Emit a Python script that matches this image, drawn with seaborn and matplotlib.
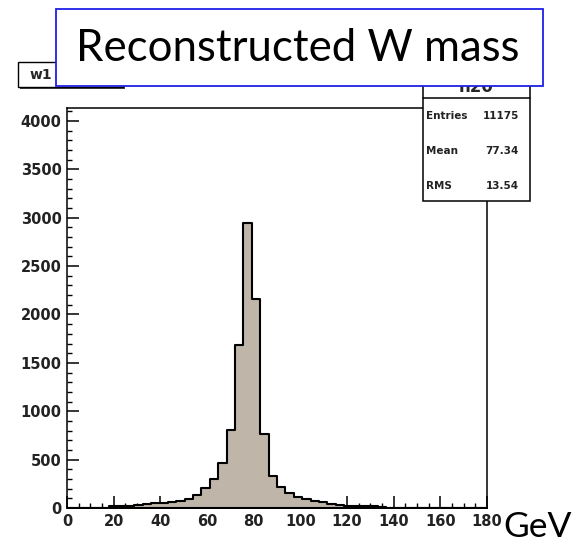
import numpy as np
import pandas as pd
import matplotlib
matplotlib.use("Agg")
import matplotlib.pyplot as plt
from matplotlib.patches import Rectangle
from matplotlib.ticker import MultipleLocator
import seaborn as sns

# ---- data ----
bin_edges = [round(3.6 * i, 1) for i in range(51)]
counts = [0, 0, 0, 0, 0, 20, 22, 25, 28, 45,
          50, 52, 65, 68, 92, 138, 205, 296, 468, 806,
          1684, 2941, 2159, 761, 331, 215, 155, 118, 92, 70,
          62, 45, 30, 25, 22, 20, 18, 10, 0, 0,
          0, 0, 0, 0, 0, 0, 0, 0, 0, 0]
x_ticks = [0, 20, 40, 60, 80, 100, 120, 140, 160, 180]
y_ticks = [0, 500, 1000, 1500, 2000, 2500, 3000, 3500, 4000]
title_text = "Reconstructed W mass"
unit_text = "GeV"
hist_name = "w1"
stats_name = "h20"
stats_labels = ["Entries", "Mean", "RMS"]
stats_values = ["11175", "77.34", "13.54"]

centers = [(bin_edges[i] + bin_edges[i + 1]) / 2 for i in range(len(counts))]
df = pd.DataFrame({"mass": centers, "n": counts})

W, H = 586, 544
sns.set_style("white")
plt.rcParams["font.family"] = ["DejaVu Sans"]
fig = plt.figure(figsize=(W / 100, H / 100), dpi=100)

def fx(x):
    return x / W

def fy(y):
    return 1 - y / H

ax = fig.add_axes([fx(67), fy(508), fx(487) - fx(67), fy(108) - fy(508)])
sns.histplot(data=df, x="mass", weights="n", bins=bin_edges, element="step",
             fill=True, color="#bfb5a9", edgecolor="black", linewidth=1.5,
             alpha=1, ax=ax)
ax.set_xlim(0, 180)
ax.set_ylim(0, 4134)
ax.set_xlabel("")
ax.set_ylabel("")
ax.set_xticks(x_ticks)
ax.set_yticks(y_ticks)
ax.xaxis.set_minor_locator(MultipleLocator(5))
ax.yaxis.set_minor_locator(MultipleLocator(100))
ax.tick_params(which="major", direction="in", length=8.6, width=1.1,
               color="black", labelsize=10.5, pad=4, top=False, right=False,
               bottom=True, left=True)
ax.tick_params(which="minor", direction="in", length=3.6, width=1.0,
               color="black", top=False, right=False, bottom=True, left=True)
for lab in ax.get_xticklabels() + ax.get_yticklabels():
    lab.set_fontweight("bold")
    lab.set_color("#222222")
for s in ax.spines.values():
    s.set_visible(True)
    s.set_color("black")
    s.set_linewidth(1.1)

# ---- ROOT-like histogram title box ----
fig.add_artist(Rectangle((fx(20), fy(89)), fx(125) - fx(20), fy(64) - fy(89),
                         transform=fig.transFigure, facecolor="#444444",
                         edgecolor="none", zorder=4))
fig.add_artist(Rectangle((fx(18), fy(87)), fx(123) - fx(18), fy(62) - fy(87),
                         transform=fig.transFigure, facecolor="white",
                         edgecolor="black", linewidth=1.0, zorder=5))
fig.text(fx(30), fy(75), hist_name, fontsize=10, fontweight="bold",
         ha="left", va="center", zorder=6)

# ---- stats box ----
fig.add_artist(Rectangle((fx(423), fy(200.5)), fx(530) - fx(423), fy(60) - fy(200.5),
                         transform=fig.transFigure, facecolor="white",
                         edgecolor="black", linewidth=1.1, zorder=5))
fig.add_artist(plt.Line2D([fx(423), fx(530)], [fy(98.3), fy(98.3)],
                          transform=fig.transFigure, color="black",
                          linewidth=1.1, zorder=6))
fig.text(fx(476), fy(91.5), stats_name, fontsize=12, fontweight="bold",
         ha="center", va="baseline", zorder=6)
for i, (lab, val) in enumerate(zip(stats_labels, stats_values)):
    yy = 116 + i * 35
    fig.text(fx(426), fy(yy), lab, fontsize=7.5, fontweight="bold",
             ha="left", va="center", color="#222222", zorder=7)
    fig.text(fx(519), fy(yy), val, fontsize=7.5, fontweight="bold",
             ha="right", va="center", color="#222222", zorder=7)

# ---- slide title box ----
fig.add_artist(Rectangle((fx(56), fy(85.5)), fx(543) - fx(56), fy(9) - fy(85.5),
                         transform=fig.transFigure, facecolor="white",
                         edgecolor="#1f1fe6", linewidth=1.3, zorder=10))
fig.text(fx(298), fy(48.5), title_text, fontsize=31.5, family=["Lato", "DejaVu Sans"],
         ha="center", va="center", color="black", zorder=11)

fig.text(fx(503), fy(527), unit_text, fontsize=25.5, family=["Lato", "DejaVu Sans"],
         ha="left", va="center", color="black", zorder=11)

fig.savefig("out.png", dpi=100)
